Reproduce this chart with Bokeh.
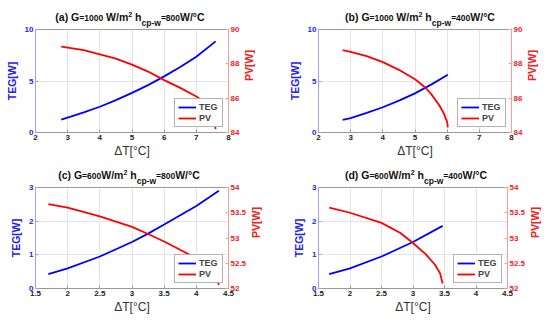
import math
from bokeh.plotting import figure
from bokeh.models import (Range1d, LinearAxis, FixedTicker, NumeralTickFormatter,
                          Legend, LegendItem, Div)
from bokeh.layouts import column, row
from bokeh.embed import file_html
from bokeh.resources import INLINE

# ---------------- data ----------------
# (a) G=1000 W/m2, h=800
a_dt = [2.8, 3.0, 3.5, 4.0, 4.5, 5.0, 5.5, 6.0, 6.5, 7.0, 7.6]
a_teg = [1.25, 1.45, 1.95, 2.5, 3.15, 3.85, 4.6, 5.45, 6.35, 7.35, 8.85]
a_dt_pv = [2.8, 3.0, 3.5, 4.0, 4.5, 5.0, 5.5, 6.0, 6.5, 7.0, 7.3, 7.5, 7.6]
a_pv = [89.0, 88.95, 88.8, 88.55, 88.3, 87.95, 87.55, 87.05, 86.6, 86.1, 85.7, 85.1, 84.2]

# (b) G=1000 W/m2, h=400
b_dt = [2.75, 3.0, 3.5, 4.0, 4.5, 5.0, 5.5, 6.02]
b_teg = [1.22, 1.4, 1.9, 2.45, 3.1, 3.8, 4.65, 5.6]
b_dt_pv = [2.75, 3.0, 3.5, 4.0, 4.5, 5.0, 5.3, 5.5, 5.75, 5.9, 6.0, 6.02]
b_pv = [88.8, 88.7, 88.45, 88.1, 87.65, 87.1, 86.65, 86.25, 85.6, 85.1, 84.6, 84.3]

# (c) G=600 W/m2, h=800
c_dt = [1.7, 2.0, 2.5, 3.0, 3.25, 3.5, 4.0, 4.35]
c_teg = [0.43, 0.6, 0.95, 1.38, 1.63, 1.9, 2.45, 2.9]
c_dt_pv = [1.7, 2.0, 2.5, 3.0, 3.25, 3.5, 4.0, 4.15, 4.3, 4.35]
c_pv = [53.67, 53.6, 53.43, 53.22, 53.08, 52.93, 52.6, 52.45, 52.25, 52.07]

# (d) G=600 W/m2, h=400
d_dt = [1.67, 2.0, 2.5, 3.0, 3.47]
d_teg = [0.43, 0.6, 0.95, 1.38, 1.86]
d_dt_pv = [1.67, 2.0, 2.5, 2.8, 3.0, 3.2, 3.35, 3.43, 3.47]
d_pv = [53.6, 53.5, 53.3, 53.1, 52.9, 52.68, 52.47, 52.3, 52.1]

x_ticks_top = [2, 3, 4, 5, 6, 7, 8]
x_ticks_bot = [1.5, 2, 2.5, 3, 3.5, 4, 4.5]
teg_ticks_top = [0, 5, 10]
teg_ticks_bot = [0, 1, 2, 3]
pv_ticks_top = [84, 86, 88, 90]
pv_ticks_bot = [52, 52.5, 53, 53.5, 54]

title_a = [("(a) G", "m"), ("=1000", "s"), (" W/m", "m"), ("2", "sup"), (" h", "m"),
           ("cp-w", "sub"), ("=800", "s"), ("W/°C", "m")]
title_b = [("(b) G", "m"), ("=1000", "s"), (" W/m", "m"), ("2", "sup"), (" h", "m"),
           ("cp-w", "sub"), ("=400", "s"), ("W/°C", "m")]
title_c = [("(c) G", "m"), ("=600", "s"), ("W/m", "m"), ("2", "sup"), (" h", "m"),
           ("cp-w", "sub"), ("=800", "s"), ("W/°C", "m")]
title_d = [("(d) G", "m"), ("=600", "s"), ("W/m", "m"), ("2", "sup"), (" h", "m"),
           ("cp-w", "sub"), ("=400", "s"), ("W/°C", "m")]

FONT = "Liberation Sans"
SIZES = {"m": 10.5, "s": 8.5, "sup": 7.0, "sub": 8.5}
SHIFT = {"m": 0, "s": 0, "sup": -4, "sub": 4.5}


def title_div(segs, center, top, height):
    parts = []
    for s, k in segs:
        txt = s.replace(" ", "&nbsp;")
        parts.append(f'<span style="font-size:{SIZES[k]}px;position:relative;'
                     f'top:{SHIFT[k]}px">{txt}</span>')
    html = (f'<div style="position:absolute;left:{center - 110}px;top:{top}px;width:220px;'
            f'text-align:center;white-space:nowrap;line-height:12px;'
            f'font-family:\'{FONT}\';font-weight:bold;font-size:10.5px;color:#111">'
            + "".join(parts) + '</div>')
    return Div(text=html, width=275, height=height, margin=0,
               styles={"overflow": "visible", "position": "relative"})


def panel(x_rng, x_ticks, teg_rng, teg_ticks, pv_rng, pv_ticks,
          dt, teg, dt_pv, pv, height, left, right, top, bottom):
    p = figure(width=275, height=height, x_range=Range1d(*x_rng), y_range=Range1d(*teg_rng),
               output_backend="svg", toolbar_location=None,
               min_border_left=left, min_border_right=right,
               min_border_top=top, min_border_bottom=bottom)
    p.background_fill_color = "white"
    p.border_fill_color = None
    p.outline_line_color = "#999999"
    p.extra_y_ranges = {"pv": Range1d(*pv_rng)}
    rax = LinearAxis(y_range_name="pv")
    p.add_layout(rax, "right")

    xa = p.xaxis[0]
    la = p.yaxis[0]
    xa.ticker = FixedTicker(ticks=x_ticks)
    xa.formatter = NumeralTickFormatter(format="0.[0]")
    la.ticker = FixedTicker(ticks=teg_ticks)
    rax.ticker = FixedTicker(ticks=pv_ticks)
    rax.formatter = NumeralTickFormatter(format="0.[0]")

    for ax, col, lc in ((xa, "#222222", "#999999"), (la, "#2222ee", "#a0a0ff"),
                        (rax, "#ee2222", "#ff9a9a")):
        ax.axis_line_color = lc
        ax.major_tick_line_color = lc
        ax.major_tick_in = 3
        ax.major_tick_out = 0
        ax.minor_tick_line_color = None
        ax.major_label_text_font = FONT
        ax.major_label_text_font_size = "8px"
        ax.major_label_text_font_style = "bold"
        ax.major_label_text_color = col
        ax.major_label_standoff = 2
        ax.axis_label_text_font = FONT

    xa.axis_label = "ΔT[°C]"
    xa.axis_label_text_font_size = "12px"
    xa.axis_label_text_font_style = "normal"
    xa.axis_label_text_color = "#333333"
    xa.axis_label_standoff = 1

    la.axis_label = "TEG[W]"
    la.axis_label_text_font_size = "10.5px"
    la.axis_label_text_font_style = "bold"
    la.axis_label_text_color = "#2222ee"
    la.axis_label_standoff = 4

    rax.axis_label = "PV[W]"
    rax.axis_label_text_font_size = "10.5px"
    rax.axis_label_text_font_style = "bold"
    rax.axis_label_text_color = "#ee2222"
    rax.axis_label_standoff = 7
    try:
        rax.axis_label_orientation = math.pi / 2
    except Exception:
        pass

    p.xgrid.grid_line_color = "#e4e4e4"
    p.ygrid.grid_line_color = "#e2e2f2"

    r1 = p.line(dt, teg, line_color="#0000ff", line_width=1.8)
    r2 = p.line(dt_pv, pv, line_color="#ff0000", line_width=1.8, y_range_name="pv")

    leg = Legend(items=[LegendItem(label="TEG", renderers=[r1]),
                        LegendItem(label="PV", renderers=[r2])],
                 location="bottom_right")
    leg.label_text_font = FONT
    leg.label_text_font_size = "9px"
    leg.label_text_font_style = "bold"
    leg.glyph_width = 18
    leg.glyph_height = 10
    leg.label_height = 10
    leg.label_standoff = 3
    leg.spacing = 1
    leg.padding = 3
    leg.margin = 5
    leg.border_line_color = "#666666"
    leg.background_fill_alpha = 1.0
    p.add_layout(leg)
    return p


pa = panel((2, 8), x_ticks_top, (0, 10), teg_ticks_top, (84, 90), pv_ticks_top,
           a_dt, a_teg, a_dt_pv, a_pv, 135, 35, 47, 4, 28)
pb = panel((2, 8), x_ticks_top, (0, 10), teg_ticks_top, (84, 90), pv_ticks_top,
           b_dt, b_teg, b_dt_pv, b_pv, 135, 43, 39, 4, 28)
pc = panel((1.5, 4.5), x_ticks_bot, (0, 3), teg_ticks_bot, (52, 54), pv_ticks_bot,
           c_dt, c_teg, c_dt_pv, c_pv, 140, 35, 47, 4, 35)
pd = panel((1.5, 4.5), x_ticks_bot, (0, 3), teg_ticks_bot, (52, 54), pv_ticks_bot,
           d_dt, d_teg, d_dt_pv, d_pv, 140, 43, 39, 4, 35)

ta = title_div(title_a, 130, 11, 25)
tb = title_div(title_b, 145, 11, 25)
tc = title_div(title_c, 129, 9, 23)
td = title_div(title_d, 141, 9, 23)

layout = column(row(ta, tb), row(pa, pb), row(tc, td), row(pc, pd))
open("out.html", "w").write(file_html(layout, INLINE))
